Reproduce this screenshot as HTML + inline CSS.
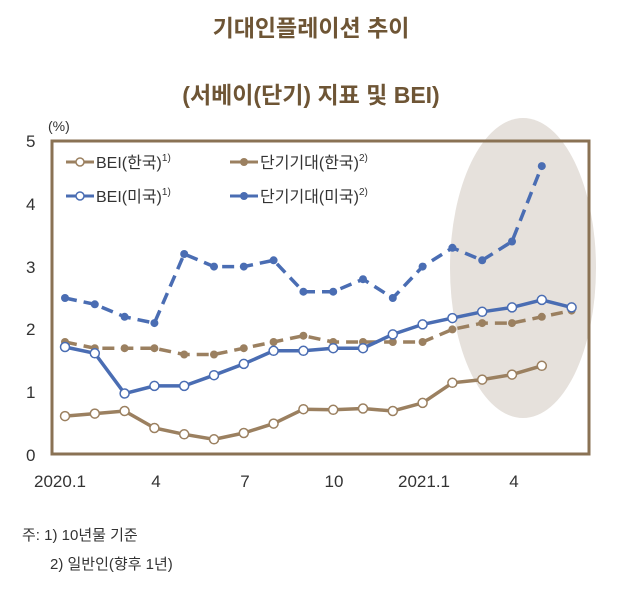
<!DOCTYPE html>
<html><head><meta charset="utf-8"><style>
body{margin:0;background:#fff;}
text{font-family:"Liberation Sans","Noto Sans CJK KR",sans-serif;}
</style></head><body>
<svg width="622" height="596" xmlns="http://www.w3.org/2000/svg">
<defs>
<marker id="bf" markerUnits="userSpaceOnUse" markerWidth="12" markerHeight="12" refX="6" refY="6"><circle cx="6" cy="6" r="4" fill="#9b8060"/></marker>
<marker id="uf" markerUnits="userSpaceOnUse" markerWidth="12" markerHeight="12" refX="6" refY="6"><circle cx="6" cy="6" r="4" fill="#4a6db3"/></marker>
<marker id="bo" markerUnits="userSpaceOnUse" markerWidth="12" markerHeight="12" refX="6" refY="6"><circle cx="6" cy="6" r="4.5" fill="#fff" stroke="#9b8060" stroke-width="1.5"/></marker>
<marker id="uo" markerUnits="userSpaceOnUse" markerWidth="12" markerHeight="12" refX="6" refY="6"><circle cx="6" cy="6" r="4.5" fill="#fff" stroke="#4a6db3" stroke-width="1.5"/></marker>
</defs>
<text x="311" y="36" text-anchor="middle" font-size="23" font-weight="bold" fill="#6e5535">기대인플레이션 추이</text>
<text x="311" y="103" text-anchor="middle" font-size="23" font-weight="bold" fill="#6e5535">(서베이(단기) 지표 및 BEI)</text>
<ellipse cx="523" cy="268" rx="73" ry="150" fill="#e6e1dc"/>
<rect x="52" y="141" width="537" height="313" fill="none" stroke="#8a7254" stroke-width="3"/>
<g font-size="17" fill="#333">
<text x="26" y="147">5</text><text x="26" y="210">4</text><text x="26" y="273">3</text><text x="26" y="335">2</text><text x="26" y="398">1</text><text x="26" y="461">0</text>
<text x="48" y="131" font-size="14">(%)</text>
<text x="60" y="487" text-anchor="middle">2020.1</text>
<text x="156" y="487" text-anchor="middle">4</text>
<text x="245" y="487" text-anchor="middle">7</text>
<text x="334" y="487" text-anchor="middle">10</text>
<text x="424" y="487" text-anchor="middle">2021.1</text>
<text x="514" y="487" text-anchor="middle">4</text>
</g>
<g fill="none" stroke-width="3.5">
<polyline stroke="#9b8060" stroke-dasharray="12,7" marker-start="url(#bf)" marker-mid="url(#bf)" marker-end="url(#bf)" points="65,342 94.8,348.2 124.6,348.2 154.4,348.2 184.2,354.5 214,354.5 243.8,348.2 273.6,342 303.4,335.7 333.2,342 363,342 392.8,342 422.6,342 452.4,329.4 482.2,323.1 512,323.1 541.8,316.8 571.6,310.6"/>
<polyline stroke="#4a6db3" stroke-dasharray="12,7" marker-start="url(#uf)" marker-mid="url(#uf)" marker-end="url(#uf)" points="65,298 94.8,304.3 124.6,316.8 154.4,323.1 184.2,254 214,266.6 243.8,266.6 273.6,260.3 303.4,291.7 333.2,291.7 363,279.2 392.8,298 422.6,266.6 452.4,247.8 482.2,260.3 512,241.5 541.8,166.1"/>
<polyline stroke="#9b8060" marker-start="url(#bo)" marker-mid="url(#bo)" marker-end="url(#bo)" points="65,416.1 94.8,413.6 124.6,411 154.4,428 184.2,434.3 214,439.3 243.8,433 273.6,423.6 303.4,409.2 333.2,409.8 363,408.5 392.8,411 422.6,402.9 452.4,382.8 482.2,379.6 512,374.6 541.8,365.8"/>
<polyline stroke="#4a6db3" marker-start="url(#uo)" marker-mid="url(#uo)" marker-end="url(#uo)" points="65,347 94.8,353.3 124.6,393.5 154.4,385.9 184.2,385.9 214,375.2 243.8,363.9 273.6,350.8 303.4,350.8 333.2,348.2 363,348.2 392.8,334.4 422.6,324.4 452.4,318.1 482.2,311.8 512,307.4 541.8,299.9 571.6,307.4"/>
</g>
<g font-size="15" fill="#333">
<text x="22" y="540">주:  1) 10년물 기준</text>
<text x="50" y="569">2) 일반인(향후 1년)</text>
</g>
<g font-size="16" fill="#333">
<line x1="66" y1="162" x2="94" y2="162" stroke="#9b8060" stroke-width="3"/><circle cx="80" cy="162" r="4" fill="#fff" stroke="#9b8060" stroke-width="1.5"/>
<text x="96" y="168">BEI(한국)<tspan font-size="10" dy="-7">1)</tspan></text>
<line x1="230" y1="162" x2="258" y2="162" stroke="#9b8060" stroke-width="3"/><circle cx="244" cy="162" r="4" fill="#9b8060"/>
<text x="260" y="168">단기기대(한국)<tspan font-size="10" dy="-7">2)</tspan></text>
<line x1="66" y1="196" x2="94" y2="196" stroke="#4a6db3" stroke-width="3"/><circle cx="80" cy="196" r="4" fill="#fff" stroke="#4a6db3" stroke-width="1.5"/>
<text x="96" y="202">BEI(미국)<tspan font-size="10" dy="-7">1)</tspan></text>
<line x1="230" y1="196" x2="258" y2="196" stroke="#4a6db3" stroke-width="3"/><circle cx="244" cy="196" r="4" fill="#4a6db3"/>
<text x="260" y="202">단기기대(미국)<tspan font-size="10" dy="-7">2)</tspan></text>
</g>
</svg>
</body></html>
